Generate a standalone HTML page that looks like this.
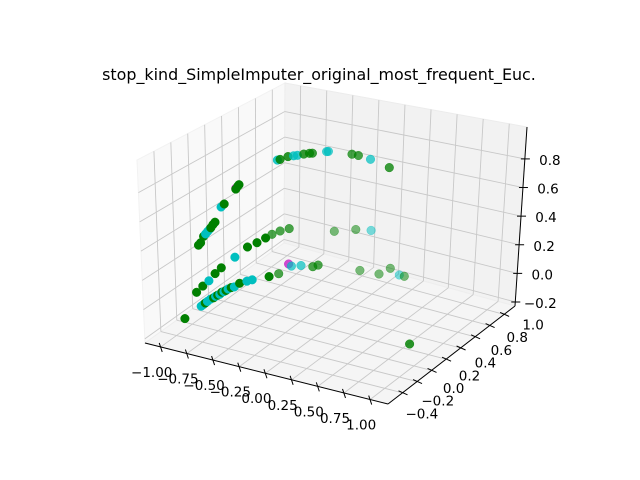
<!DOCTYPE html>
<html><head><meta charset="utf-8"><style>
html,body{margin:0;padding:0;background:#fff;}
svg{display:block;font-family:"DejaVu Sans","Liberation Sans",sans-serif;}
</style></head><body>
<svg id="chart" width="640" height="480" viewBox="0 0 640 480" xmlns="http://www.w3.org/2000/svg">
<rect width="640" height="480" fill="#fff"/>
<text x="319" y="80" text-anchor="middle" font-size="15.9" fill="#000">stop_kind_SimpleImputer_original_most_frequent_Euc.</text>
<g id="panes"></g>
<g id="grid"></g>
<g id="axes"></g>
<g id="points"></g>
</svg>
<script>
const xTicks = [-1.00,-0.75,-0.50,-0.25,0.00,0.25,0.50,0.75,1.00];
const yTicks = [-0.4,-0.2,0.0,0.2,0.4,0.6,0.8,1.0];
const zTicks = [-0.2,0.0,0.2,0.4,0.6,0.8];
const xRange = [-1.15,1.17];
const yRange = [-0.6,1.15];
const zRange = [-0.228,1.023];

const ptX = [-0.485,-0.275,-0.125,-0.225,-0.035,0.075,0.165,0.215,
 -0.925,-0.765,-0.745,-0.725,-0.705,-0.675,-0.645,-0.625,-0.605,-0.585,-0.565,-0.545,-0.525,-0.505,-0.475,-0.445,-0.395,-0.325,-0.275,-0.115,-0.025,0.069,0.095,0.185,0.295,0.345,
 -0.805,-0.745,-0.685,-0.625,-0.565,-0.435,-0.315,-0.225,-0.145,-0.085,-0.009,0.075,
 -0.775,-0.755,-0.725,-0.705,-0.685,-0.665,-0.655,-0.635,-0.615,-0.555,-0.525,-0.415,-0.395,-0.385,-0.415,
 -0.465,-0.455,-0.435,-0.405,-0.385,-0.355,-0.325,-0.305,-0.225,-0.215,-0.015,0.045,0.175,0.405,
 0.76];
const ptY = [0.935,0.935,0.935,0.935,0.935,0.935,0.935,0.935,
 -0.385,-0.385,-0.385,-0.385,-0.385,-0.385,-0.385,-0.385,-0.385,-0.385,-0.385,-0.385,-0.385,-0.385,-0.385,-0.385,-0.385,-0.385,-0.385,-0.385,-0.385,-0.385,-0.385,-0.385,-0.385,-0.385,
 -0.385,-0.385,-0.385,-0.385,-0.385,-0.385,-0.385,-0.385,-0.385,-0.385,-0.385,-0.385,
 -0.385,-0.385,-0.385,-0.385,-0.385,-0.385,-0.385,-0.385,-0.385,-0.385,-0.385,-0.385,-0.385,-0.385,-0.385,
 0.19,0.21,0.28,0.31,0.33,0.37,0.40,0.41,0.48,0.49,0.52,0.52,0.5,0.43,
 0.275];
const ptZ = [0.085,0.137,0.158,-0.155,-0.144,-0.082,-0.113,-0.113,
 -0.103,0.011,0.026,0.04,0.055,0.075,0.09,0.104,0.115,0.125,0.143,0.15,0.162,0.175,0.19,0.2,0.233,0.26,0.278,0.327,0.362,0.444,0.434,0.453,0.463,0.482,
 0.1,0.153,0.2,0.26,0.31,0.405,0.495,0.54,0.585,0.62,0.655,0.685,
 0.43,0.45,0.5,0.52,0.54,0.56,0.57,0.595,0.615,0.73,0.755,0.88,0.9,0.91,0.875,
 0.88,0.88,0.88,0.88,0.88,0.88,0.88,0.88,0.88,0.88,0.88,0.88,0.88,0.88,
 -0.228];
const ptClass = ['g','g','c','g','g','g','c','g',
 'g','c','c','g','c','c','g','c','g','c','g','c','g','c','g','c','g','c','c','g','g','m','c','c','g','g',
 'g','g','c','g','g','c','g','g','g','g','g','g',
 'g','g','g','c','c','c','g','g','g','c','g','m','g','g','g',
 'c','g','g','c','c','g','g','g','c','c','g','g','c','g',
 'g'];

const COLORS = {g:'#008000', c:'#00bfbf', m:'#bf00bf'};
const C000=[145,343],C100=[388,404],C110=[515,306],C010=[284,243];
const C001=[137,160],C101=[392,215],C111=[527,127],C011=[285,83];
function lerp(a,b,t){return [a[0]+(b[0]-a[0])*t,a[1]+(b[1]-a[1])*t];}
function proj(u,v,w){
  const b0=lerp(lerp(C000,C100,u),lerp(C010,C110,u),v);
  const b1=lerp(lerp(C001,C101,u),lerp(C011,C111,u),v);
  return lerp(b0,b1,w);
}
function U(x){return (x-xRange[0])/(xRange[1]-xRange[0]);}
function V(y){return (y-yRange[0])/(yRange[1]-yRange[0]);}
function W(z){return (z-zRange[0])/(zRange[1]-zRange[0]);}
const NS='http://www.w3.org/2000/svg';
function mk(tag,attrs,parent){const e=document.createElementNS(NS,tag);for(const k in attrs)e.setAttribute(k,attrs[k]);parent.appendChild(e);return e;}
function poly(pts){return pts.map(p=>p[0].toFixed(1)+','+p[1].toFixed(1)).join(' ');}

const panes=document.getElementById('panes');
let p=mk('polygon',{points:poly([proj(0,0,0),proj(0,1,0),proj(0,1,1),proj(0,0,1)]),fill:'#f9f9f9',stroke:'#f2f2f2'},panes);


p=mk('polygon',{points:poly([proj(0,1,0),proj(1,1,0),proj(1,1,1),proj(0,1,1)]),fill:'#f2f2f2',stroke:'#ececec'},panes);


p=mk('polygon',{points:poly([proj(0,0,0),proj(1,0,0),proj(1,1,0),proj(0,1,0)]),fill:'#f5f5f5',stroke:'#eeeeee'},panes);



const grid=document.getElementById('grid');
function gl(a,b,name){const l=mk('line',{x1:a[0],y1:a[1],x2:b[0],y2:b[1],stroke:'#c8c8c8','stroke-width':0.9},grid);

}
xTicks.forEach(t=>{const u=U(t);gl(proj(u,0,0),proj(u,1,0),'x-grid-floor');gl(proj(u,1,0),proj(u,1,1),'x-grid-back');});
yTicks.forEach(t=>{const v=V(t);gl(proj(0,v,0),proj(1,v,0),'y-grid-floor');gl(proj(0,v,0),proj(0,v,1),'y-grid-left');});
zTicks.forEach(t=>{const w=W(t);gl(proj(0,0,w),proj(0,1,w),'z-grid-left');gl(proj(0,1,w),proj(1,1,w),'z-grid-back');});

const axes=document.getElementById('axes');
function al(a,b,name){const l=mk('line',{x1:a[0],y1:a[1],x2:b[0],y2:b[1],stroke:'#000','stroke-width':1},axes);

}
al(proj(0,0,0),proj(1,0,0),'x-axis-line');
al(proj(1,0,0),proj(1,1,0),'y-axis-line');
al(proj(1,1,0),proj(1,1,1),'z-axis-line');
function lbl(x,y,s,name){const t=mk('text',{x:x,y:y,'text-anchor':'middle','font-size':13.5,fill:'#000'},axes);t.textContent=s;

}
xTicks.forEach(t=>{const a=proj(U(t),0,0);
  al([a[0]-1.5,a[1]-4],[a[0]+1.5,a[1]+5],'x-tick');
  lbl(a[0]-9,a[1]+30,t.toFixed(2).replace('-','\u2212'),'x-tick-label');});
yTicks.forEach(t=>{const v=V(t);const a=proj(1,v,0);
  al([a[0]-4,a[1]-2],[a[0]+5,a[1]+2],'y-tick');
  lbl(a[0]+18+12*v,a[1]+27-13*v,t.toFixed(1).replace('-','\u2212'),'y-tick-label');});
zTicks.forEach(t=>{const a=proj(1,1,W(t));
  al([a[0]-4,a[1]],[a[0]+5,a[1]],'z-tick');
  lbl(a[0]+25,a[1]+6,t.toFixed(1).replace('-','\u2212'),'z-tick-label');});

const pts=document.getElementById('points');
for(let i=0;i<ptX.length;i++){
  const u=U(ptX[i]),v=V(ptY[i]),w=W(ptZ[i]);
  const s=proj(u,v,w);
  let a=1-0.5*Math.max(0,Math.min(1,(v-0.3)/0.6));
  if(v<0.7&&u>0.45&&w<0.8&&ptY[i]<0)a-=0.3;
  const col=COLORS[ptClass[i]];
  const c=mk('circle',{cx:s[0].toFixed(1),cy:s[1].toFixed(1),r:4.3,fill:col,'fill-opacity':a,stroke:col,'stroke-opacity':a,'stroke-width':0.5},pts);
  
  
}
</script>
</body></html>
